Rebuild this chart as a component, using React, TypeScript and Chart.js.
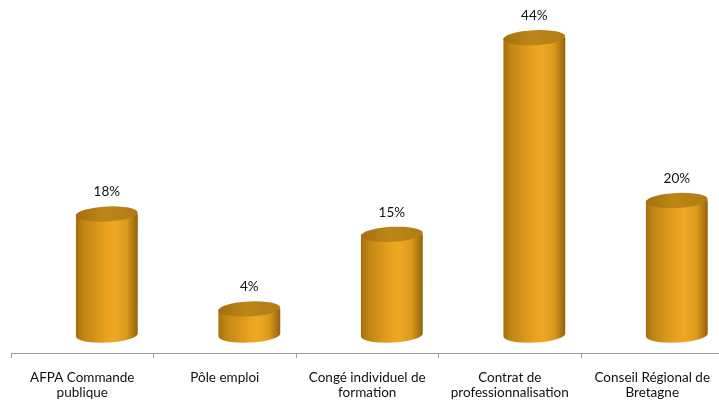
import React, { useEffect, useRef } from "react";
import { Chart, registerables } from "chart.js";

Chart.register(...registerables);

const categories: string[][] = [
  ["AFPA Commande", "publique"],
  ["Pôle emploi"],
  ["Congé individuel de", "formation"],
  ["Contrat de", "professionnalisation"],
  ["Conseil Régional de", "Bretagne"],
];
const values: number[] = [18, 4, 15, 44, 20];

const FONT = "Lato, 'Open Sans', sans-serif";

const cylinderPlugin = {
  id: "cylinders",
  afterDatasetsDraw(chart: any) {
    const ctx: CanvasRenderingContext2D = chart.ctx;
    const meta = chart.getDatasetMeta(0);
    const yScale = chart.scales.y;
    const xScale = chart.scales.x;
    const catW = (xScale.right - xScale.left) / categories.length;
    const offset = catW * 0.1727;
    const rx = catW * 0.217;
    const ry = 7.5;
    const tilt = -0.05;
    const yb = yScale.getPixelForValue(0) - 1;
    meta.data.forEach((el: any, i: number) => {
      const cx = el.x + offset;
      const yt = yScale.getPixelForValue(values[i]);
      ctx.save();
      // body
      const g = ctx.createLinearGradient(cx - rx, 0, cx + rx, 0);
      g.addColorStop(0, "#A56F0C");
      g.addColorStop(0.12, "#C08614");
      g.addColorStop(0.5, "#EAA220");
      g.addColorStop(0.62, "#EFA824");
      g.addColorStop(0.82, "#DB9A1C");
      g.addColorStop(1, "#94620A");
      ctx.beginPath();
      ctx.moveTo(cx - rx, yt);
      ctx.lineTo(cx - rx, yb);
      ctx.ellipse(cx, yb, rx, ry, tilt, Math.PI, 0, true);
      ctx.lineTo(cx + rx, yt);
      ctx.closePath();
      ctx.fillStyle = g;
      ctx.fill();
      // top
      const gt = ctx.createLinearGradient(cx - rx, yt, cx + rx, yt);
      gt.addColorStop(0, "#A3700F");
      gt.addColorStop(0.45, "#BE8618");
      gt.addColorStop(1, "#B07C15");
      ctx.beginPath();
      ctx.ellipse(cx, yt, rx, ry, tilt, 0, Math.PI * 2);
      ctx.fillStyle = gt;
      ctx.fill();
      // label
      ctx.fillStyle = "#111";
      ctx.font = `13.5px ${FONT}`;
      ctx.textAlign = "center";
      ctx.textBaseline = "alphabetic";
      ctx.fillText(`${values[i]}%`, cx, yt - 17.5);
      ctx.restore();
    });
  },
};

export default function App() {
  const ref = useRef<HTMLCanvasElement>(null);
  useEffect(() => {
    if (!ref.current) return;
    const chart = new Chart(ref.current, {
      type: "bar",
      data: {
        labels: categories,
        datasets: [
          {
            data: values,
            backgroundColor: "rgba(0,0,0,0)",
            borderWidth: 0,
          },
        ],
      },
      options: {
        responsive: false,
        animation: false,
        layout: { padding: { left: 11, right: 6.5, top: 0, bottom: 0 } },
        plugins: {
          legend: { display: false },
          tooltip: { enabled: false },
        },
        scales: {
          y: { display: false, min: -2.5, max: 49.56 },
          x: {
            afterFit: (s: any) => {
              s.height = 48;
            },
            grid: {
              offset: true,
              drawOnChartArea: false,
              drawTicks: true,
              tickLength: 5,
              color: "#9a9a9a",
            },
            border: { display: true, color: "#9a9a9a", width: 1 },
            ticks: {
              padding: 12,
              color: "#111",
              maxRotation: 0,
              autoSkip: false,
              font: { family: FONT, size: 13.5, lineHeight: 1.12 },
            },
          },
        },
      },
      plugins: [cylinderPlugin],
    });
    return () => chart.destroy();
  }, []);
  return (
    <div
      style={{
        position: "absolute",
        left: 0,
        top: 0,
        width: 719,
        height: 401,
        overflow: "hidden",
        background: "#fff",
      }}
    >
      <canvas ref={ref} width={730} height={401} style={{ display: "block" }} />
    </div>
  );
}
